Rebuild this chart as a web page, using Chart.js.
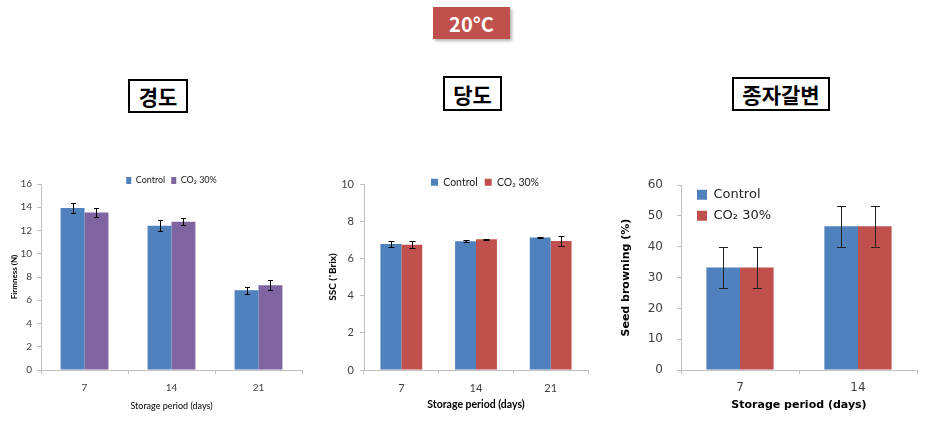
<!DOCTYPE html>
<html>
<head>
<meta charset="utf-8">
<script src="https://cdn.jsdelivr.net/npm/chart.js@4"></script>
<style>
    body { margin: 0; background: #fff; }
    #page { position: relative; width: 930px; height: 427px; overflow: hidden; }
    canvas { position: absolute; }
    .tag {
        position: absolute;
        box-sizing: border-box;
        display: flex;
        align-items: center;
        justify-content: center;
        font-family: "Noto Sans CJK KR", sans-serif;
        font-weight: bold;
        font-size: 21px;
        color: #000;
        background: #fff;
        border: 2px solid #000;
    }
    #temp {
        left: 433px; top: 7px; width: 77px; height: 32px;
        font-size: 20px;
        background: #c0504d; color: #fff; border: none;
        box-shadow: 2px 2px 3px rgba(0, 0, 0, 0.3);
    }
</style>
</head>
<body>
<div id="page">
    <div class="tag" id="temp">20°C</div>
    <div class="tag" style="left:128px; top:79px; width:60px; height:34px;">경도</div>
    <div class="tag" style="left:443px; top:76px; width:59px; height:35px;">당도</div>
    <div class="tag" style="left:732px; top:77px; width:98px; height:34px;">종자갈변</div>
    <canvas id="firmChart" width="310" height="245" style="left:0; top:170px;"></canvas>
    <canvas id="sscChart" width="290" height="245" style="left:310px; top:170px;"></canvas>
    <canvas id="brownChart" width="310" height="251" style="left:620px; top:164px;"></canvas>
</div>
<script>
const days = ['7', '14', '21'];
const firmControl = [13.93, 12.4, 6.85];
const firmControlErr = [0.43, 0.47, 0.31];
const firmCo2 = [13.55, 12.75, 7.3];
const firmCo2Err = [0.36, 0.29, 0.43];

const sscControl = [6.77, 6.92, 7.13];
const sscControlErr = [0.18, 0.05, 0.03];
const sscCo2 = [6.74, 7.03, 6.93];
const sscCo2Err = [0.17, 0.02, 0.25];

const brownDays = ['7', '14'];
const brownControl = [33.3, 46.7];
const brownControlErr = [6.7, 6.7];
const brownCo2 = [33.3, 46.7];
const brownCo2Err = [6.7, 6.7];

const BLUE = '#4f81bd';
const PURPLE = '#8064a2';
const RED = '#c0504d';
const AXIS = '#bfbfbf';

// error bars drawn from the y scale, caps of +-cap px
function errorBars(cap, color) {
    return {
        id: 'errorBars',
        afterDatasetsDraw(chart) {
            const ctx = chart.ctx;
            const y = chart.scales.y;
            ctx.save();
            ctx.strokeStyle = color;
            ctx.lineWidth = 1;
            chart.data.datasets.forEach((ds, i) => {
                chart.getDatasetMeta(i).data.forEach((bar, j) => {
                    const top = Math.round(y.getPixelForValue(ds.data[j] + ds.errors[j])) + 0.5;
                    const bot = Math.round(y.getPixelForValue(ds.data[j] - ds.errors[j])) + 0.5;
                    const x = Math.round(bar.x) + 0.5;
                    ctx.beginPath();
                    ctx.moveTo(x, top); ctx.lineTo(x, bot);
                    ctx.moveTo(x - cap, top); ctx.lineTo(x + cap, top);
                    ctx.moveTo(x - cap, bot); ctx.lineTo(x + cap, bot);
                    ctx.stroke();
                });
            });
            ctx.restore();
        }
    };
}

// legend box: optional fixed height (so the plot top lands where the picture has it),
// then nudged by dx/dy and left unclipped below
function legendPlace(h, dx, dy, inside) {
    return {
        id: 'legendPlace',
        beforeInit(chart) {
            if (h == null) return;
            const fit = chart.legend.fit;
            chart.legend.fit = function () {
                fit.call(this);
                this.height = h;
            };
        },
        afterLayout(chart) {
            const l = chart.legend, ca = chart.chartArea;
            const w = l.width;
            l.left = (inside ? ca.left : l.left) + dx;
            l.top = (inside ? ca.top : l.top) + dy;
            l.right = l.left + w;
            l.bottom = l.top + 60;
        }
    };
}

function axes(o) {
    return {
        x: {
            afterFit: s => { s.height = 45; },
            border: { color: AXIS },
            grid: { drawOnChartArea: false, tickLength: 4, color: AXIS },
            ticks: { color: '#404040', padding: o.xPad, font: o.tickFont },
            title: { display: true, text: 'Storage period (days)', color: '#000', font: o.xTitleFont, padding: { top: 0, bottom: o.xTitlePad } }
        },
        y: {
            afterFit: s => { s.width = o.yWidth; },
            min: 0, max: o.max,
            border: { color: AXIS },
            grid: { drawOnChartArea: false, tickLength: 4, color: AXIS },
            ticks: { stepSize: o.step, color: '#404040', padding: o.yPad, font: o.tickFont },
            title: { display: true, text: o.yTitle, color: '#000', font: o.yTitleFont, padding: { top: o.yTitlePad, bottom: 0 } }
        }
    };
}

new Chart(document.getElementById('firmChart'), {
    type: 'bar',
    data: {
        labels: days,
        datasets: [
            { label: 'Control', data: firmControl, errors: firmControlErr, backgroundColor: BLUE },
            { label: 'CO₂ 30%', data: firmCo2, errors: firmCo2Err, backgroundColor: PURPLE }
        ]
    },
    options: {
        responsive: false,
        animation: false,
        categoryPercentage: 0.55,
        barPercentage: 1,
        layout: { padding: { left: 0, right: 8, top: 0, bottom: 0 } },
        plugins: {
            legend: {
                position: 'top', fullSize: false,
                labels: { boxWidth: 5, boxHeight: 7, padding: 6, color: '#222', font: { family: 'Lato', size: 9 } }
            },
            tooltip: { enabled: false }
        },
        scales: axes({
            max: 16, step: 2, yWidth: 41, yPad: 5, xPad: 8, xTitlePad: 4, yTitlePad: 10,
            yTitle: 'Firmness (N)',
            tickFont: { family: 'Lato', size: 10 },
            xTitleFont: { family: 'Lato', size: 9 },
            yTitleFont: { family: 'Lato', size: 8, weight: 'bold' }
        })
    },
    plugins: [legendPlace(14, 0, 0, false), errorBars(2.5, '#000')]
});

new Chart(document.getElementById('sscChart'), {
    type: 'bar',
    data: {
        labels: days,
        datasets: [
            { label: 'Control', data: sscControl, errors: sscControlErr, backgroundColor: BLUE },
            { label: 'CO₂ 30%', data: sscCo2, errors: sscCo2Err, backgroundColor: RED }
        ]
    },
    options: {
        responsive: false,
        animation: false,
        categoryPercentage: 0.56,
        barPercentage: 1,
        layout: { padding: { left: 0, right: 12, top: 0, bottom: 0 } },
        plugins: {
            legend: {
                position: 'top', fullSize: false,
                labels: { boxWidth: 7, boxHeight: 7, padding: 7, color: '#222', font: { family: 'Lato', size: 10.5 } }
            },
            tooltip: { enabled: false }
        },
        scales: axes({
            max: 10, step: 2, yWidth: 54, yPad: 6, xPad: 8, xTitlePad: 4, yTitlePad: 17,
            yTitle: 'SSC (˚Brix)',
            tickFont: { family: 'Lato', size: 11 },
            xTitleFont: { family: 'Lato', size: 10.5, weight: 'bold' },
            yTitleFont: { family: 'Lato', size: 10, weight: 'bold' }
        })
    },
    plugins: [legendPlace(14, 9, 0, false), errorBars(3, '#000')]
});

new Chart(document.getElementById('brownChart'), {
    type: 'bar',
    data: {
        labels: brownDays,
        datasets: [
            { label: 'Control', data: brownControl, errors: brownControlErr, backgroundColor: BLUE },
            { label: 'CO₂ 30%', data: brownCo2, errors: brownCo2Err, backgroundColor: RED }
        ]
    },
    options: {
        responsive: false,
        animation: false,
        categoryPercentage: 0.57,
        barPercentage: 1,
        layout: { padding: { left: 0, right: 13, top: 7, bottom: 0 } },
        plugins: {
            legend: {
                position: 'chartArea', align: 'start',
                labels: { boxWidth: 10, boxHeight: 10, padding: 8, color: '#222', font: { family: 'DejaVu Sans', size: 13 } }
            },
            tooltip: { enabled: false }
        },
        scales: axes({
            max: 60, step: 10, yWidth: 61, yPad: 14, xPad: 7, xTitlePad: 3, yTitlePad: 0,
            yTitle: 'Seed browning (%)',
            tickFont: { family: 'DejaVu Sans', size: 12 },
            xTitleFont: { family: 'DejaVu Sans', size: 11, weight: 'bold' },
            yTitleFont: { family: 'DejaVu Sans', size: 11, weight: 'bold' }
        })
    },
    plugins: [legendPlace(null, 8, -5, true), errorBars(4.5, '#222')]
});
</script>
</body>
</html>
